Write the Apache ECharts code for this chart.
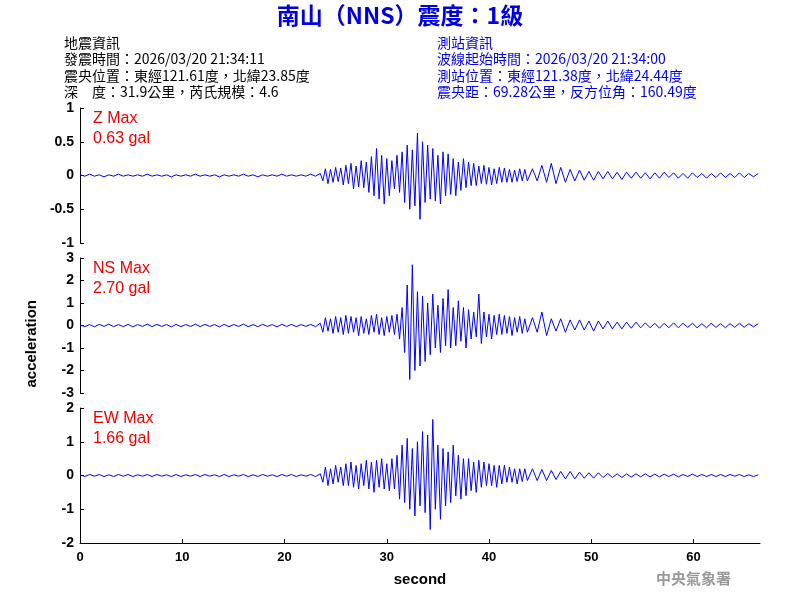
<!DOCTYPE html>
<html><head><meta charset="utf-8">
<script src="https://cdn.jsdelivr.net/npm/echarts@6/dist/echarts.min.js"></script>
<style>html,body{margin:0;background:#fff}#c{width:800px;height:600px}</style>
</head><body><div id="c"></div>
<script>
// quiet pre-event part, onset part (dense), coda
const zPre = [0.01,-0.01,0.02,-0.01,0.01,-0.02,0.01,-0.01,0.02,-0.01,0.01,-0.01,0.01,-0.01,0.02,-0.01,0.01,-0.01,0.01,-0.02,0.01,-0.01,0.01,-0.01,0.02,-0.01,0.01,-0.01,0.01,-0.02,0.01,-0.01,0.01,-0.01,0.02,-0.01,0.01,-0.02,0.01,-0.01,0.01,-0.01,0.02,-0.01,0.01,-0.01,0.01,-0.01,0.02,-0.01];
const zMain = [0.03,-0.08,0.1,-0.12,0.09,-0.1,0.12,-0.09,0.11,-0.14,
  0.15,-0.12,0.18,-0.2,0.14,-0.17,0.22,-0.18,0.2,-0.25,
  0.28,-0.3,0.4,-0.35,0.3,-0.42,0.25,-0.3,0.22,-0.2,
  0.3,-0.25,0.35,-0.4,0.45,-0.5,0.38,-0.45,0.63,-0.65,
  0.5,-0.4,0.45,-0.35,0.4,-0.38,0.3,-0.42,0.35,-0.3,
  0.32,-0.28,0.25,-0.3,0.2,-0.22,0.25,-0.18,0.2,-0.15,
  0.18,-0.15,0.14,-0.12,0.15,-0.13,0.12,-0.14,0.1,-0.12,
  0.12,-0.1,0.11,-0.1,0.09,-0.1,0.08,-0.09,0.1,-0.08,0.09,-0.08];
const zCoda = [0.1,-0.08,0.15,-0.1,0.18,-0.12,0.12,-0.1,0.09,-0.08,0.08,-0.07,0.06,-0.07,0.06,-0.05,0.06,-0.05,0.05,-0.06,0.05,-0.04,0.05,-0.04,0.04,-0.05,0.04,-0.04,0.05,-0.03,0.04,-0.04,0.03,-0.04,0.04,-0.03,0.03,-0.04,0.03,-0.03,0.04,-0.03,0.03,-0.03,0.04,-0.03,0.03,-0.02,0.03];

const nsPre = [0.03,-0.05,0.04,-0.06,0.05,-0.04,0.06,-0.05,0.04,-0.05,0.05,-0.06,0.04,-0.04,0.06,-0.05,0.05,-0.04,0.04,-0.06,0.05,-0.05,0.04,-0.04,0.06,-0.05,0.05,-0.04,0.04,-0.06,0.05,-0.05,0.04,-0.04,0.06,-0.05,0.04,-0.05,0.05,-0.04,0.04,-0.06,0.05,-0.04,0.05,-0.05,0.04,-0.04,0.05,-0.05];
const nsMain = [0.1,-0.3,0.35,-0.25,0.3,-0.35,0.4,-0.3,0.35,-0.4,
  0.45,-0.35,0.4,-0.3,0.35,-0.45,0.4,-0.35,0.3,-0.4,
  0.45,-0.3,0.5,-0.4,0.35,-0.45,0.4,-0.3,0.45,-0.4,
  0.5,-0.6,0.8,-1.2,1.8,-2.4,2.7,-2.0,1.5,-1.8,
  1.3,-1.6,1.0,-1.3,1.4,-1.0,0.9,-1.2,1.2,-0.9,
  1.6,-1.0,0.8,-0.9,1.1,-0.7,0.8,-1.0,0.7,-0.6,
  0.6,-0.5,1.4,-0.8,0.6,-0.5,0.5,-0.6,0.45,-0.4,
  0.5,-0.4,0.45,-0.35,0.4,-0.45,0.35,-0.3,0.4,-0.35,0.3,-0.3];
const nsCoda = [0.35,-0.3,0.6,-0.45,0.3,-0.25,0.3,-0.3,0.25,-0.2,0.25,-0.2,0.2,-0.25,0.2,-0.15,0.2,-0.15,0.15,-0.15,0.15,-0.12,0.15,-0.1,0.12,-0.1,0.1,-0.12,0.1,-0.1,0.12,-0.1,0.1,-0.08,0.1,-0.1,0.08,-0.1,0.1,-0.08,0.08,-0.1,0.08,-0.08,0.1,-0.08,0.08,-0.06,0.08];

const ewPre = [0.02,-0.03,0.03,-0.02,0.03,-0.03,0.02,-0.03,0.03,-0.02,0.03,-0.03,0.02,-0.02,0.03,-0.03,0.03,-0.02,0.02,-0.03,0.03,-0.03,0.02,-0.02,0.03,-0.03,0.03,-0.02,0.02,-0.03,0.03,-0.03,0.02,-0.02,0.03,-0.03,0.02,-0.03,0.03,-0.02,0.02,-0.03,0.03,-0.02,0.03,-0.03,0.02,-0.02,0.03,-0.03];
const ewMain = [0.05,-0.2,0.25,-0.3,0.2,-0.25,0.3,-0.2,0.25,-0.3,
  0.35,-0.3,0.4,-0.35,0.3,-0.4,0.35,-0.3,0.45,-0.4,
  0.4,-0.5,0.45,-0.35,0.5,-0.4,0.35,-0.45,0.5,-0.4,
  0.6,-0.7,0.9,-0.8,1.1,-1.0,0.8,-1.2,1.0,-0.9,
  1.3,-1.1,1.2,-1.6,1.66,-1.0,0.9,-1.3,0.8,-0.9,
  0.7,-0.8,0.9,-0.6,0.6,-0.7,0.5,-0.6,0.5,-0.45,
  0.4,-0.5,0.45,-0.35,0.4,-0.3,0.35,-0.3,0.3,-0.35,
  0.3,-0.25,0.3,-0.2,0.25,-0.2,0.2,-0.25,0.2,-0.18,0.2,-0.15];
const ewCoda = [0.2,-0.15,0.18,-0.15,0.15,-0.12,0.12,-0.1,0.12,-0.1,0.1,-0.08,0.08,-0.08,0.08,-0.06,0.06,-0.06,0.05,-0.06,0.05,-0.05,0.05,-0.04,0.05,-0.04,0.04,-0.04,0.04,-0.03,0.04,-0.04,0.03,-0.03,0.04,-0.03,0.03,-0.03,0.03,-0.03,0.03,-0.03,0.03,-0.02,0.03,-0.03,0.02,-0.03,0.02];

const yRanges = [[-1, 1, 0.5], [-3, 3, 1], [-2, 2, 1]];
const labels = [['Z Max', '0.63 gal'], ['NS Max', '2.70 gal'], ['EW Max', '1.66 gal']];

// segment timing (seconds)
const PRE_STEP = 0.47, MAIN_T0 = 23.5, MAIN_STEP = 0.25, CODA_T0 = 44.25, CODA_STEP = 0.46;

const build = (pre, main, coda) => {
  const out = [];
  pre.forEach((v, i) => out.push([i * PRE_STEP, v]));
  main.forEach((v, i) => out.push([MAIN_T0 + i * MAIN_STEP, v]));
  coda.forEach((v, i) => out.push([CODA_T0 + i * CODA_STEP, v]));
  return out;
};
const traces = [build(zPre, zMain, zCoda), build(nsPre, nsMain, nsCoda), build(ewPre, ewMain, ewCoda)];

const tops = [108, 258, 408];
const font = 'Arial, "Liberation Sans", sans-serif';
const cjk = '"Noto Sans CJK TC", sans-serif';

const chart = echarts.init(document.getElementById('c'));
chart.setOption({
  animation: false,
  grid: tops.map((t) => ({ left: 80, right: 40, top: t, height: 135 })),
  xAxis: tops.map((t, i) => ({
    gridIndex: i, type: 'value', min: 0, max: 66.5, interval: 10,
    show: i === 2,
    axisLine: { onZero: false, lineStyle: { color: '#000' } },
    axisTick: { inside: true, length: 4, lineStyle: { color: '#000' } },
    axisLabel: { color: '#000', fontFamily: font, fontSize: 13, fontWeight: 'bold', showMaxLabel: false },
    splitLine: { show: false },
    name: i === 2 ? 'second' : '', nameLocation: 'middle', nameGap: 29,
    nameTextStyle: { color: '#000', fontFamily: font, fontSize: 15, fontWeight: 'bold' }
  })),
  yAxis: yRanges.map((r, i) => ({
    gridIndex: i, type: 'value', min: r[0], max: r[1], interval: r[2],
    axisLine: { show: true, onZero: false, lineStyle: { color: '#000' } },
    axisTick: { show: true, inside: true, length: 4, lineStyle: { color: '#000' } },
    axisLabel: { color: '#000', fontFamily: font, fontSize: 14, fontWeight: 'bold', margin: 6 },
    splitLine: { show: false }
  })),
  series: traces.map((d, i) => ({
    type: 'line', xAxisIndex: i, yAxisIndex: i, data: d,
    symbol: 'none', lineStyle: { color: '#0000ff', width: 1 }
  })),
  graphic: [
    { type: 'text', left: 'center', top: 4, style: { text: '南山（NNS）震度：1級', fill: '#0000dd', font: 'bold 23px ' + cjk } },
    { type: 'text', left: 64, top: 34, style: { text: '地震資訊\n發震時間：2026/03/20 21:34:11\n震央位置：東經121.61度，北緯23.85度\n深　度：31.9公里，芮氏規模：4.6', fill: '#000', font: '14px ' + cjk, lineHeight: 16.5 } },
    { type: 'text', left: 437, top: 34, style: { text: '測站資訊\n波線起始時間：2026/03/20 21:34:00\n測站位置：東經121.38度，北緯24.44度\n震央距：69.28公里，反方位角：160.49度', fill: '#0000ee', font: '14px ' + cjk, lineHeight: 16.5 } },
    ...labels.map((l, i) => ({ type: 'text', left: 93, top: tops[i] + 1, style: { text: l[0] + '\n' + l[1], fill: '#ee0000', font: '16px ' + font, lineHeight: 20 } })),
    { type: 'text', left: 24, top: 300, rotation: Math.PI / 2, style: { text: 'acceleration', fill: '#000', font: 'bold 15px ' + font, align: 'center', verticalAlign: 'middle' } },
    { type: 'text', left: 656, top: 571, style: { text: '中央氣象署', fill: '#999', font: 'bold 15px ' + cjk } }
  ]
});
</script></body></html>
